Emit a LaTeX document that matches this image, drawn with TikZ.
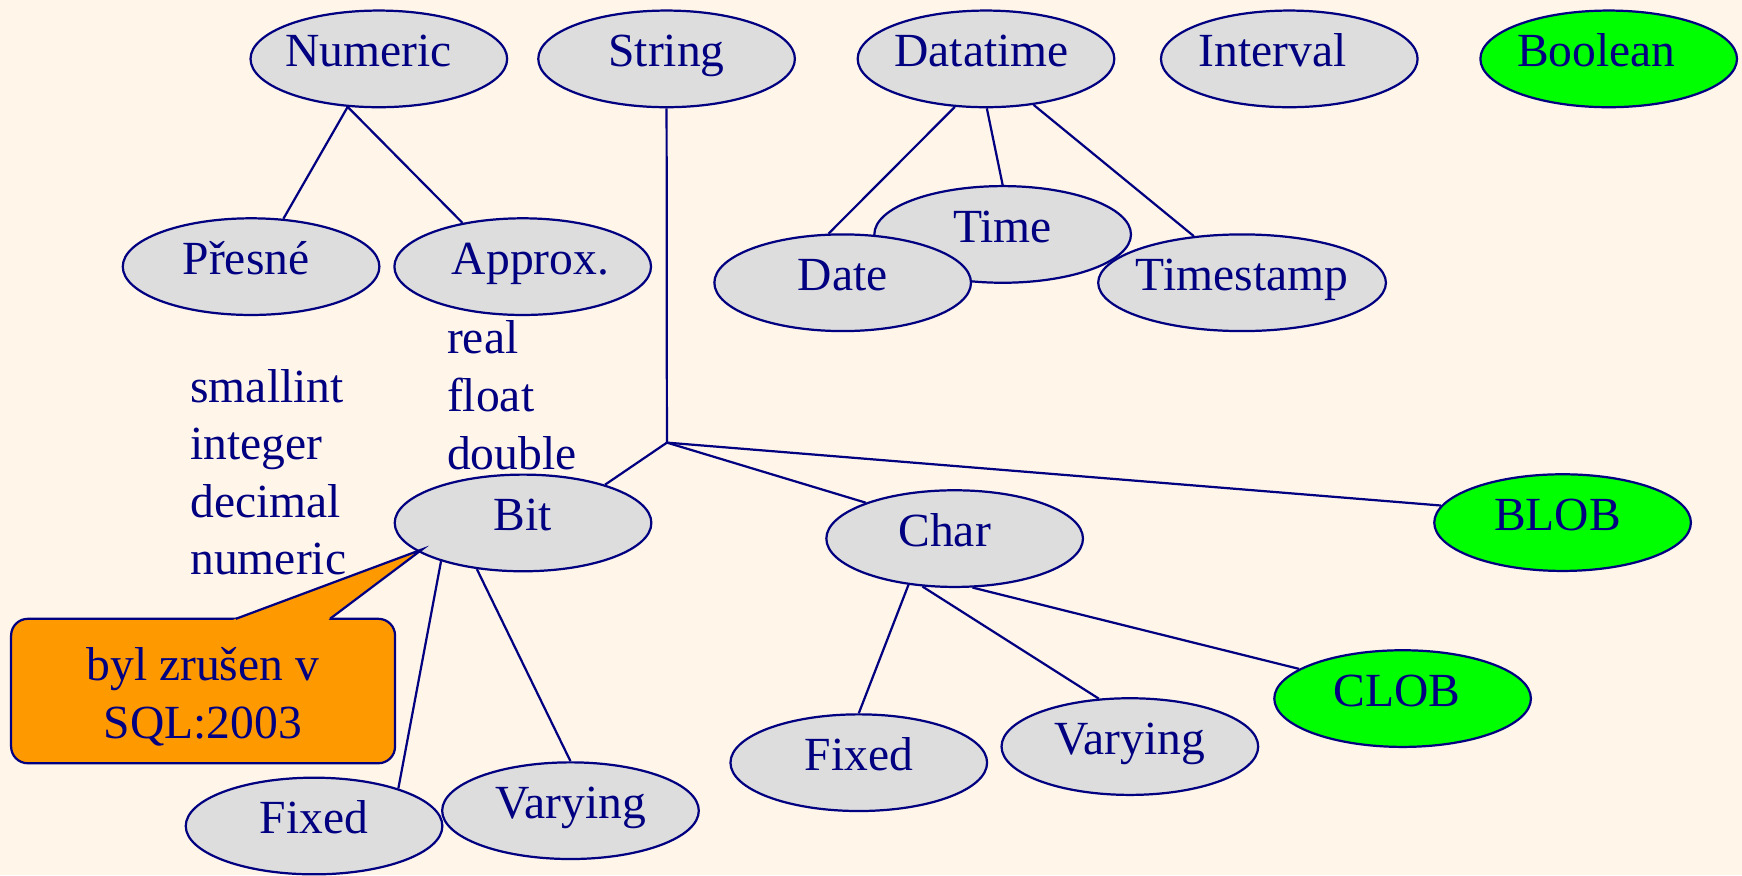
\documentclass[tikz,border=0pt]{standalone}
\usepackage{fontspec}
\setmainfont{Liberation Serif}
\usetikzlibrary{shapes.geometric}
\definecolor{bgc}{HTML}{FFF5E9}
\definecolor{navy}{HTML}{000080}
\definecolor{ovalfill}{HTML}{DDDDDD}
\definecolor{limefill}{HTML}{00FF00}
\definecolor{notefill}{HTML}{FF9900}
\newcommand{\tshift}[2]{\makebox[0pt]{\kern#1\relax #2\kern-#1\relax}}
\begin{document}
\begin{tikzpicture}[x=0.5pt,y=-0.5pt,
  every node/.style={font=\fontsize{21.4}{26}\selectfont, text=navy},
  oval/.style={ellipse, draw=navy, line width=1pt, fill=ovalfill,
    minimum width=115.5pt, minimum height=43.5pt, inner sep=0pt,
    text height=13.3pt, text depth=6.4pt},
  greenoval/.style={oval, fill=limefill},
  link/.style={draw=navy, line width=1pt},
  listtext/.style={anchor=base west, inner sep=0pt},
  notetext/.style={anchor=base, inner sep=0pt},
  notebox/.style={draw=navy, line width=1pt, fill=notefill, rounded corners=7.5pt,
    minimum width=172.8pt, minimum height=65pt, inner sep=0pt},
]
\fill[bgc] (0,0) rectangle (1568,788);
\useasboundingbox (0,0) rectangle (1568,788);

% top row
\node[oval] (numeric) at (341,53) {\tshift{-4.5pt}{Numeric}};
\node[oval] (string) at (600,53) {String};
\node[oval] (datatime) at (887.5,53) {\tshift{-2pt}{Datatime}};
\node[oval] (interval) at (1160.5,53) {\tshift{-7.5pt}{Interval}};
\node[greenoval] (boolean) at (1448,53) {\tshift{-5.5pt}{Boolean}};

% numeric children
\node[oval] (presne) at (226,240) {\tshift{-2.25pt}{Přesné}};
\node[oval] (approx) at (470.5,240) {\tshift{3.5pt}{Approx.}};

% datetime children
\node[oval] (time) at (902.5,211) {Time};
\node[oval] (date) at (758.5,254.5) {Date};
\node[oval, minimum width=129.5pt] (timestamp) at (1118,254.5) {\makebox[0pt]{Timestamp}};

% string children
\coordinate (J) at (600.3,398.4);
\node[oval] (bit) at (470.8,470.7) {Bit};
\node[oval] (char) at (859.3,484.8) {\tshift{-4.5pt}{Char}};
\node[greenoval] (blob) at (1406.5,470.4) {\tshift{-2.25pt}{BLOB}};
\node[greenoval] (clob) at (1262.5,628.8) {\tshift{-2.5pt}{CLOB}};

\node[oval] (fixedb) at (282.7,743.5) {Fixed};
\node[oval] (varyingb) at (513.5,729.7) {Varying};
\node[oval] (fixedc) at (773,686.5) {Fixed};
\node[oval] (varyingc) at (1017,672) {Varying};

% connectors
\draw[link] (numeric.237) -- (presne.56);
\draw[link] (numeric.237) -- (approx.144);
\draw[link] (string.south) -- (J);
\draw[link] (J) -- (bit.25);
\draw[link] (J) -- (char.158);
\draw[link] (J) -- (blob.172);
\draw[link] (datatime.237) -- (date.106);
\draw[link] (datatime.271) -- (time.north);
\draw[link] (datatime.316) -- (timestamp.136);
\draw[link] (bit.205) -- (fixedb.24);
\draw[link] (bit.225) -- (varyingb.north);
\draw[link] (char.225) -- (fixedc.north);
\draw[link] (char.236) -- (varyingc.123);
\draw[link] (char.290) -- (clob.164);

% type lists
\node[listtext] (l1) at (171,362.4) {smallint};
\node[listtext] (l2) at (171,414) {integer};
\node[listtext] (l3) at (171,465.6) {decimal};
\node[listtext] (l4) at (171,517.5) {numeric};
\node[listtext] (r1) at (402,318.6) {real};
\node[listtext] (r2) at (402,370.5) {float};
\node[listtext] (r3) at (402,422.4) {double};

% callout
\node[notebox] (note) at (182.8,622) {};
\coordinate (tip) at (380,494.5);
\coordinate (pl) at (212.3,557);
\coordinate (pr) at (297,557);
\fill[notefill] (205.6,559.5) -- (tip) -- (293.6,559.5) -- cycle;
\draw[link] (pl) -- (tip) -- (pr);
\node[notetext] (n1) at (182.5,612.6) {byl zrušen v};
\node[notetext] (n2) at (182.5,664.5) {SQL:2003};
\end{tikzpicture}
\end{document}
